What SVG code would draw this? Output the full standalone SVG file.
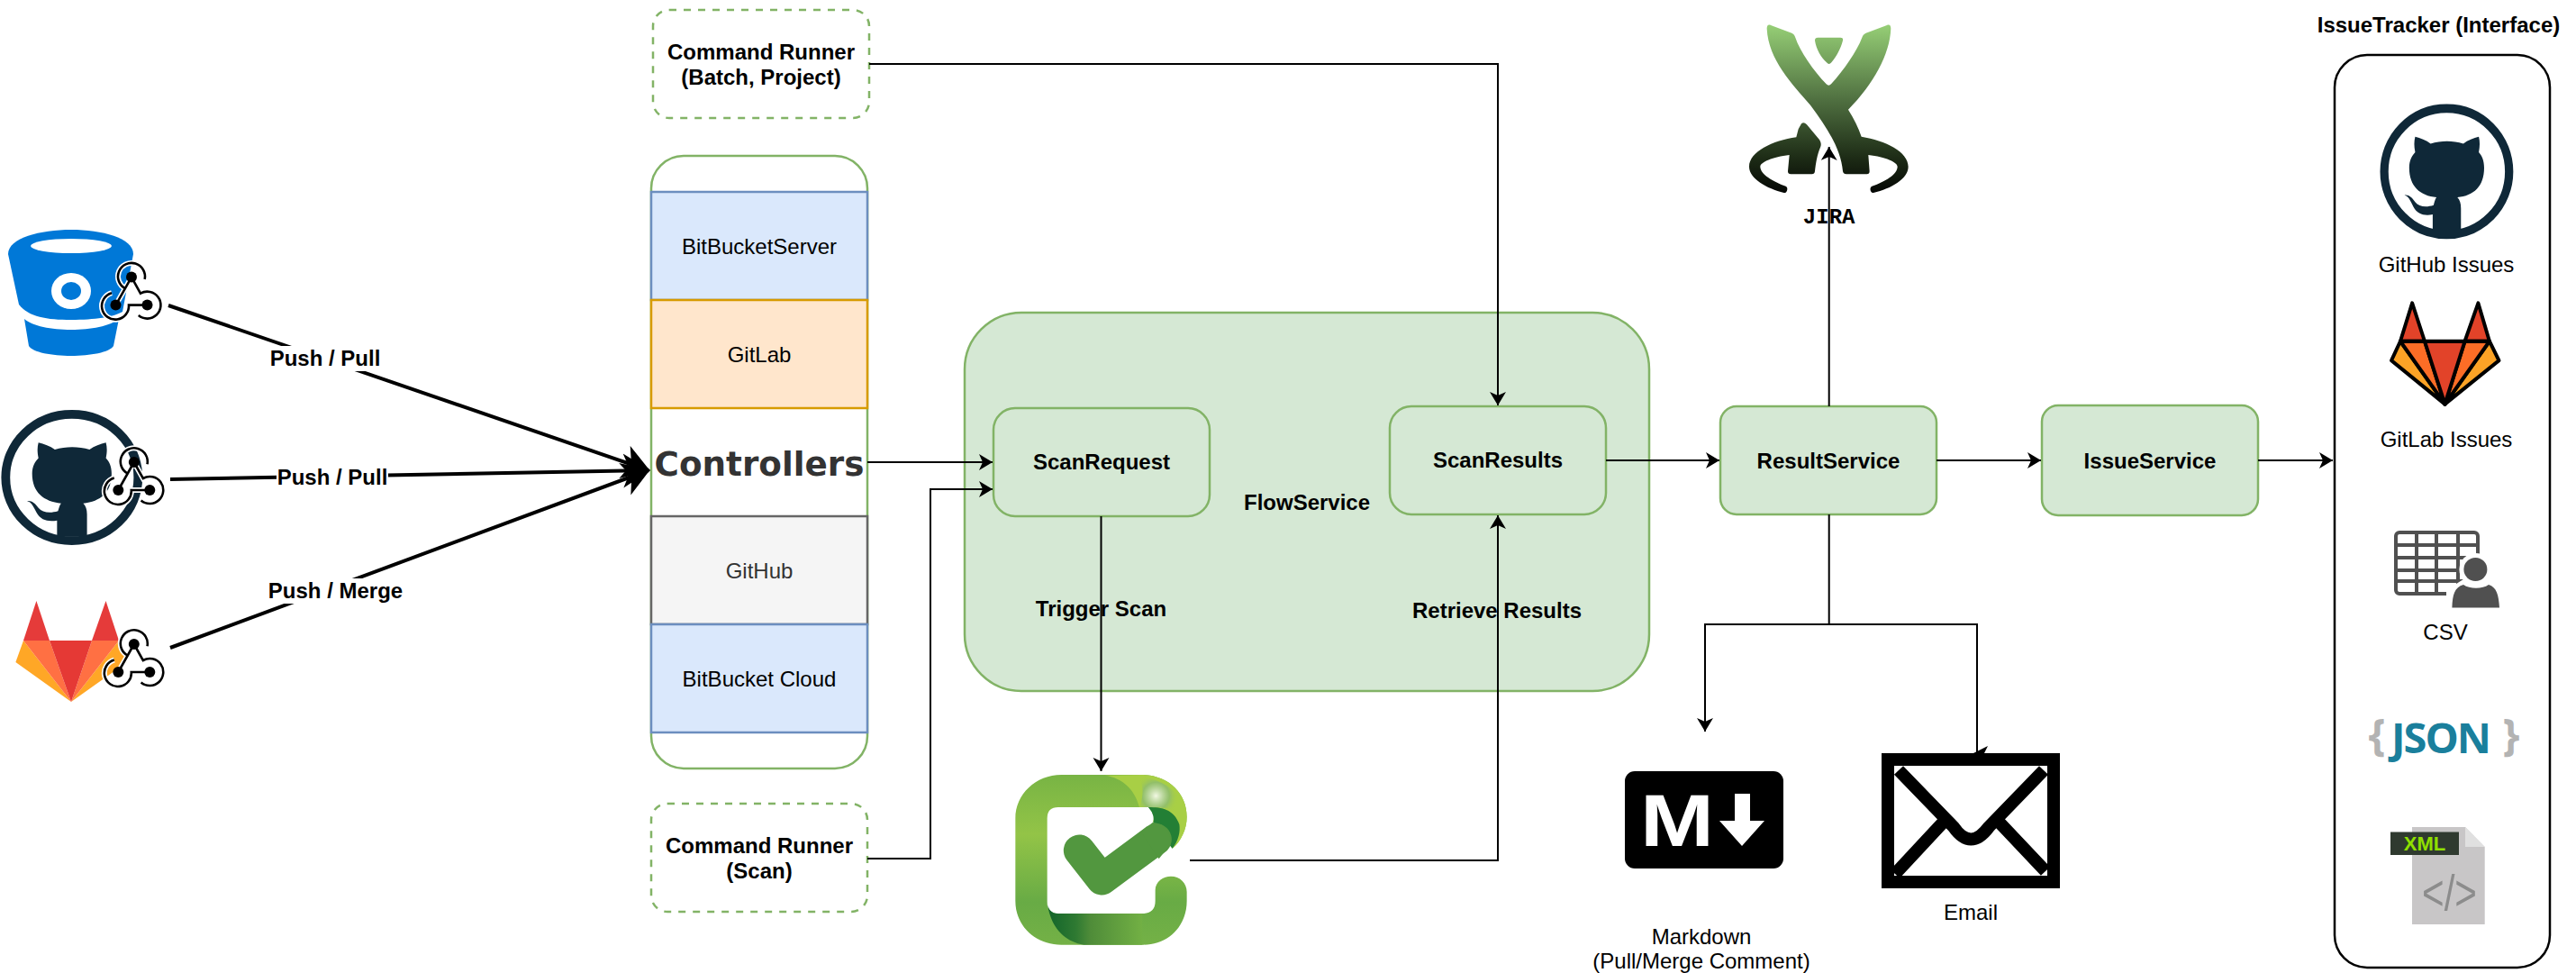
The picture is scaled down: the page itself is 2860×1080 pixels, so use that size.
<svg xmlns="http://www.w3.org/2000/svg" xmlns:xlink="http://www.w3.org/1999/xlink" width="2860" height="1080" viewBox="0 0 2860 1080">
<style>
text{font-family:"Liberation Sans",Arial,sans-serif;font-size:24px;fill:#000;text-anchor:middle}
.b{font-weight:bold}
.svc{fill:#d5e8d4;stroke:#82b366;stroke-width:2.5}
.cmd{fill:#fff;stroke:#82b366;stroke-width:2.5;stroke-dasharray:8 8}
.ln{fill:none;stroke:#000;stroke-width:2}
.thick{fill:none;stroke:#000;stroke-width:4}
.lb{fill:#fff}
</style>
<defs>
<marker id="ah" markerUnits="userSpaceOnUse" markerWidth="18" markerHeight="20" refX="15" refY="9" orient="auto"><path d="M15 9L0 18L4 9L0 0Z"/></marker>
<marker id="ahb" markerUnits="userSpaceOnUse" markerWidth="34" markerHeight="42" refX="28" refY="19" orient="auto"><path d="M30 19L0 38L8 19L0 0Z"/></marker>
<g id="ghm">
<ellipse cx="474" cy="552" rx="210" ry="203" fill="#fff" stroke="#0f2838" stroke-width="28"/>
<path fill="#0f2838" d="M427 742L427 690C400 695 375 690 362 665C352 645 345 630 332 628C345 625 358 635 368 650C380 665 405 668 430 660C433 650 435 640 440 635C385 630 348 600 348 540C348 515 358 500 368 490C364 470 364 455 368 440C385 443 405 452 420 462C455 452 495 452 530 462C545 452 565 443 582 440C586 455 586 470 582 490C592 500 600 515 600 540C600 600 565 630 510 635C518 642 522 655 522 670L522 742Z"/>
</g>
<g id="hook">
<path fill="none" stroke="#fff" stroke-width="6" d="M-7 12.6A15 15 0 1 1 14.7 2.3M0 0L-17.5 31M0 0L10 18A15 15 0 1 1 7.8 42.5M-22 17.6A15 15 0 1 0 -3 31L17.5 31"/>
<path fill="none" stroke="#000" stroke-width="2.6" d="M-7 12.6A15 15 0 1 1 14.7 2.3M0 0L-17.5 31M0 0L10 18A15 15 0 1 1 7.8 42.5M-22 17.6A15 15 0 1 0 -3 31L17.5 31"/>
<circle r="6"/><circle cx="-17.5" cy="31" r="6"/><circle cx="17.5" cy="31" r="6"/>
</g>
<linearGradient id="jg" gradientUnits="userSpaceOnUse" x1="0" y1="82" x2="0" y2="643"><stop offset="0" stop-color="#96cf76"/><stop offset=".45" stop-color="#4f6f40"/><stop offset=".8" stop-color="#1c2a15"/><stop offset="1" stop-color="#050705"/></linearGradient>
<linearGradient id="cg" x1="0" y1="0" x2="0" y2="1"><stop offset="0" stop-color="#78b444"/><stop offset=".35" stop-color="#93c447"/><stop offset=".75" stop-color="#68ab45"/><stop offset="1" stop-color="#74b146"/></linearGradient>
<linearGradient id="cb" gradientUnits="userSpaceOnUse" x1="190" y1="0" x2="505" y2="0"><stop offset="0" stop-color="#12642a"/><stop offset=".3" stop-color="#2f7a32"/><stop offset=".45" stop-color="#4f8c39"/><stop offset="1" stop-color="#72b044"/></linearGradient>
<radialGradient id="ch" gradientUnits="userSpaceOnUse" cx="550" cy="130" r="75"><stop offset="0" stop-color="#fff" stop-opacity=".85"/><stop offset=".6" stop-color="#88b878" stop-opacity=".7"/><stop offset="1" stop-color="#a8cf45" stop-opacity="0"/></radialGradient>
</defs>

<g id="bitbucket">
<path fill="#0078d7" d="M9 282C9 264 45 255 79 255C113 255 148 264 148 282L136 346C126 352 105 355 79 355C52 355 32 352 21 338Z"/>
<path fill="#0078d7" d="M27 354C36 362 57 366 79 366C101 366 122 362 132 354L126 384C122 391 100 395 79 395C58 395 36 391 32 384Z"/>
<ellipse cx="79" cy="273" rx="45" ry="8" fill="#fff"/>
<ellipse cx="79" cy="323" rx="22" ry="20" fill="#fff"/>
<ellipse cx="79" cy="323" rx="11" ry="10" fill="#0078d7"/>
<use xlink:href="#hook" href="#hook" transform="translate(146 307.6)"/>
</g>
<g id="github">
<use xlink:href="#ghm" href="#ghm" transform="translate(-86.1 339.3) scale(.35 .3455)"/>
<use xlink:href="#hook" href="#hook" transform="translate(148.8 513)"/>
</g>
<g id="gitlab">
<path fill="#e53b3a" d="M40.4 667L55 711H26Z"/>
<path fill="#e53b3a" d="M117.5 667L132 711H102Z"/>
<path fill="#ffa726" d="M26 711L17.4 735L79 779Z"/>
<path fill="#ffa726" d="M132 711L141 735L79 779Z"/>
<path fill="#ff7043" d="M26 711H55L79 779Z"/>
<path fill="#ff7043" d="M132 711H102L79 779Z"/>
<path fill="#e53935" d="M55 711H102L79 779Z"/>
<use xlink:href="#hook" href="#hook" transform="translate(148.8 715)"/>
</g>

<g id="cmd-batch">
<rect class="cmd" x="725" y="11" width="240" height="120" rx="18"/>
<text class="b" x="845" y="66">Command Runner</text>
<text class="b" x="845" y="94">(Batch, Project)</text>
</g>
<g id="controllers">
<rect x="723" y="173" width="240" height="680" rx="36" fill="#fff" stroke="#82b366" stroke-width="2.5"/>
<rect x="723" y="213" width="240" height="120" fill="#dae8fc" stroke="#6c8ebf" stroke-width="2.5"/>
<rect x="723" y="573" width="240" height="120" fill="#f5f5f5" stroke="#666" stroke-width="2.5"/>
<rect x="723" y="693" width="240" height="120" fill="#dae8fc" stroke="#6c8ebf" stroke-width="2.5"/>
<rect x="723" y="333" width="240" height="120" fill="#ffe6cc" stroke="#d79b00" stroke-width="2.5"/>
<text x="843" y="282">BitBucketServer</text>
<text x="843" y="402">GitLab</text>
<text x="843" y="528" style="font-family:'DejaVu Sans',Verdana,sans-serif;font-size:37.3px;font-weight:bold;fill:#333">Controllers</text>
<text x="843" y="642" style="fill:#333">GitHub</text>
<text x="843" y="762">BitBucket Cloud</text>
</g>
<g id="cmd-scan">
<rect class="cmd" x="723" y="892" width="240" height="120" rx="18"/>
<text class="b" x="843" y="947">Command Runner</text>
<text class="b" x="843" y="975">(Scan)</text>
</g>
<g id="flowservice">
<rect class="svc" x="1071" y="347" width="760" height="420" rx="63"/>
<text class="b" x="1451" y="566">FlowService</text>
</g>
<g id="scanrequest">
<rect class="svc" x="1103" y="453" width="240" height="120" rx="24"/>
<text class="b" x="1223" y="521">ScanRequest</text>
</g>
<g id="scanresults">
<rect class="svc" x="1543" y="451" width="240" height="120" rx="24"/>
<text class="b" x="1663" y="519">ScanResults</text>
</g>
<g id="resultservice">
<rect class="svc" x="1910" y="451" width="240" height="120" rx="18"/>
<text class="b" x="2030" y="520">ResultService</text>
</g>
<g id="issueservice">
<rect class="svc" x="2267" y="450" width="240" height="122" rx="18"/>
<text class="b" x="2387" y="520">IssueService</text>
</g>
<g id="jira" transform="translate(1900 0) scale(.3333)">
<path fill="url(#jg)" d="M185 95C185 85 190 80 198 84L268 110C275 113 278 118 280 125C295 170 340 235 383 280Q391 288 399 280C440 235 485 170 502 125C504 118 508 113 515 110L585 84C593 80 598 85 598 95C595 180 540 280 456 365C475 395 490 425 500 455C580 468 656 505 656 555C656 595 600 628 540 642C530 644 525 625 535 620C580 605 620 580 620 555C620 540 580 522 523 516L527 570Q527 580 518 580L450 580Q440 580 438 570C432 500 390 430 330 350C270 280 190 200 185 95Z"/>
<path fill="url(#jg)" d="M345 135Q345 125 355 125L430 125Q440 125 438 135C430 165 415 190 400 208Q392 218 384 208C365 190 350 165 345 135Z"/>
<path fill="url(#jg)" d="M290 430L300 412Q308 405 318 415L360 465Q368 478 364 488C352 515 348 545 345 570Q344 580 335 580L265 580Q255 580 255 570L260 516C205 522 163 540 163 555C163 580 205 605 248 620C258 625 252 644 242 642C185 628 126 595 126 555C126 505 205 468 283 457Z"/>
<text x="392" y="745" style="font-family:'Liberation Mono',monospace;font-size:72px;font-weight:bold">JIRA</text>
</g>
<g id="checkmarx" transform="translate(1100 840) scale(.3333)">
<path fill="url(#cg)" d="M235 60L500 60C590 60 653 120 653 200C653 240 635 280 605 305L540 215Q550 195 525 168L225 168Q188 168 188 205L188 485Q188 522 225 522L505 522Q548 522 548 480L548 445C548 415 575 398 600 398C630 398 653 420 653 450L653 480C653 565 590 626 510 626L235 626C150 626 82 565 82 480L82 205C82 125 150 60 235 60Z"/>
<path fill="url(#cb)" d="M188 480Q190 522 225 522L505 522L505 626L310 626C240 615 195 560 188 480Z"/>
<path fill="#a8cf45" d="M380 62L500 60C590 60 653 120 653 200C653 240 635 280 605 305C625 280 632 250 628 225C610 175 570 168 525 168L495 168C480 110 440 70 380 62Z"/>
<path fill="url(#ch)" d="M490 66C590 75 645 130 640 200C610 170 570 168 525 168L495 168C510 130 510 90 490 66Z"/>
<path fill="#237f35" d="M525 168C570 168 610 175 628 225C632 250 625 280 605 305L540 230Q550 195 525 168Z"/>
<path fill="none" stroke="#52973f" stroke-width="105" stroke-linecap="round" stroke-linejoin="round" d="M295 312L370 408L550 275"/>
<path fill="#52973f" d="M540 218Q600 225 600 290L560 340L500 250Z"/>
</g>
<g id="markdown">
<rect x="1804" y="856" width="176" height="108" rx="11"/>
<text x="1862" y="939" textLength="82" lengthAdjust="spacingAndGlyphs" style="font-size:81px;font-weight:bold;fill:#fff">M</text>
<path fill="#fff" d="M1926 881H1943V911H1959L1934 939L1909 911H1926Z"/>
<text x="1889" y="1048">Markdown</text>
<text x="1889" y="1075">(Pull/Merge Comment)</text>
</g>
<g id="issuetracker">
<rect x="2592" y="61" width="239" height="1013" rx="36" fill="#fff" stroke="#000" stroke-width="2.5"/>
<text class="b" x="2707.5" y="35.5">IssueTracker (Interface)</text>
<use xlink:href="#ghm" href="#ghm" transform="translate(2560 0) scale(.33 .345)"/>
<text x="2716" y="302">GitHub Issues</text>
<g transform="translate(2560 0) scale(.33 .345)" stroke="#000" stroke-width="12" stroke-linejoin="round">
<path fill="#e24329" d="M358 975L400 1098H318Z"/>
<path fill="#e24329" d="M580 975L618 1098H535Z"/>
<path fill="#fca326" d="M318 1098L288 1160L468 1300Z"/>
<path fill="#fca326" d="M618 1098L650 1160L468 1300Z"/>
<path fill="#fc6d26" d="M318 1098H400L468 1300Z"/>
<path fill="#fc6d26" d="M618 1098H535L468 1300Z"/>
<path fill="#e24329" d="M400 1098H535L468 1300Z"/>
</g>
<text x="2716" y="496">GitLab Issues</text>
<g id="csv-icon">
<rect x="2660" y="591" width="91" height="68" rx="4" fill="none" stroke="#505050" stroke-width="4"/>
<path fill="none" stroke="#505050" stroke-width="4" d="M2683 591V659M2705 591V659M2729 591V659M2660 605H2751M2660 619H2751M2660 633H2751M2660 645H2751"/>
<circle cx="2748.4" cy="632" r="18" fill="#fff"/>
<path fill="#fff" d="M2716 680V655L2735 643H2762L2780 655V680Z"/>
<circle cx="2748.4" cy="632" r="13" fill="#505050"/>
<path fill="#505050" d="M2722.4 674.5C2723 660 2725 652 2735 649C2742 654 2756 654 2763 649C2772 652 2774 660 2775 674.5Z"/>
</g>
<text x="2715" y="710">CSV</text>
<g id="json-icon">
<text x="2639" y="833" style="font-family:'Open Sans',sans-serif;font-size:48px;font-weight:bold;fill:#b3b3b3">{</text>
<text x="2710.5" y="836" textLength="111" style="font-family:'Open Sans',sans-serif;font-size:47px;font-weight:bold;fill:#1a7f9c">JSON</text>
<text x="2788" y="833" style="font-family:'Open Sans',sans-serif;font-size:48px;font-weight:bold;fill:#b3b3b3">}</text>
</g>
<g id="xml-icon">
<path fill="#c8c6c7" d="M2678 918H2737L2758.7 940V1026H2678Z"/>
<path fill="#e0e0e0" d="M2737 918L2758.7 940H2737Z"/>
<rect x="2654" y="923.5" width="76" height="25.5" fill="#2f3a2f"/>
<text x="2692" y="944" style="font-size:22px;font-weight:bold;fill:#8fe000">XML</text>
<text x="2719.5" y="1010" textLength="61" lengthAdjust="spacingAndGlyphs" style="font-size:56px;fill:#8c8c8c">&lt;/&gt;</text>
</g>
</g>

<g id="connectors">
<path class="thick" marker-end="url(#ahb)" d="M187 339L720 522"/>
<path class="thick" marker-end="url(#ahb)" d="M189 532L720 522"/>
<path class="thick" marker-end="url(#ahb)" d="M189 719L720 522"/>
<rect class="lb" x="298" y="384" width="126" height="28"/>
<rect class="lb" x="307" y="523" width="124" height="24"/>
<rect class="lb" x="296" y="642" width="152" height="28"/>
<text class="b" x="361" y="406">Push / Pull</text>
<text class="b" x="369" y="538">Push / Pull</text>
<text class="b" x="372.5" y="664">Push / Merge</text>
<path class="ln" marker-end="url(#ah)" d="M965 71H1663V450"/>
<path class="ln" marker-end="url(#ah)" d="M963 513H1102"/>
<path class="ln" marker-end="url(#ah)" d="M963 953H1033V543H1102"/>
<path class="ln" marker-end="url(#ah)" d="M1222.5 573V856"/>
<path class="ln" marker-end="url(#ah)" d="M1321 955H1663V572"/>
<path class="ln" marker-end="url(#ah)" d="M1783 511H1909"/>
<path class="ln" marker-end="url(#ah)" d="M2150 511H2266"/>
<path class="ln" marker-end="url(#ah)" d="M2507 511H2590"/>
<path class="ln" marker-end="url(#ah)" d="M2030.7 451V163"/>
<path class="ln" marker-end="url(#ah)" d="M2030.7 571V693H1893V812"/>
<path class="ln" d="M2030.7 693H2195V836"/>
<path d="M2191 836L2207 828L2203 836Z"/>
<text class="b" x="1222.5" y="684">Trigger Scan</text>
<text class="b" x="1662" y="686">Retrieve Results</text>
</g>

<g id="email">
<path fill="none" stroke="#000" stroke-width="14" d="M2104 970L2158 912M2271 967L2219 912"/>
<path fill="none" stroke="#000" stroke-width="14" d="M2108 855L2169 918Q2188 945 2208 918L2269 855"/>
<rect x="2096" y="843" width="184" height="136" fill="none" stroke="#000" stroke-width="14"/>
<text x="2188" y="1021">Email</text>
</g>
</svg>
